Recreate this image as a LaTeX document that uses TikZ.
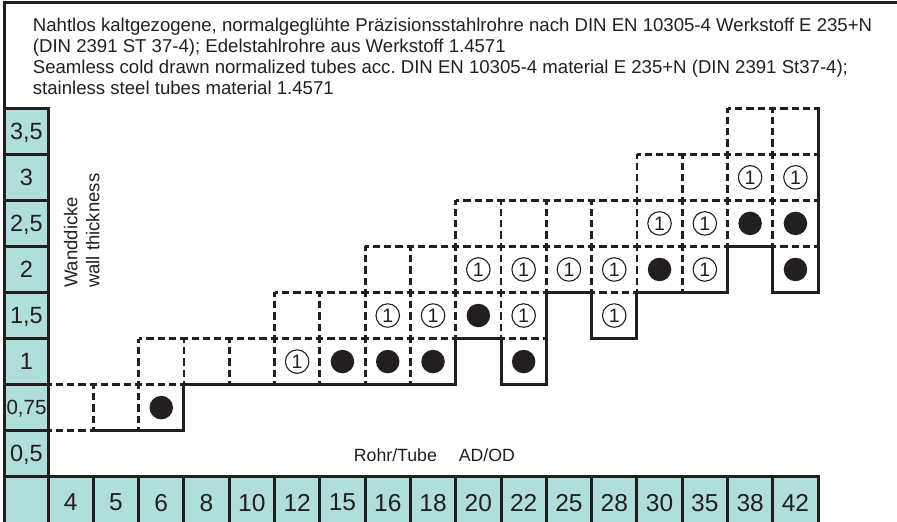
\documentclass[tikz,border=0pt]{standalone}
\usepackage{fontspec}
\setmainfont{Liberation Sans}
\definecolor{ink}{RGB}{35,31,32}
\definecolor{axisteal}{RGB}{176,222,218}
\tikzset{
  cut/.style={draw=ink, line width=2.8pt, dash pattern=on 7.3pt off 4pt, dash phase=3.65pt},
  edge/.style={draw=ink, line width=3pt, line join=miter, line cap=rect},
  frame/.style={draw=ink, line width=3pt, line cap=rect},
  axiscell/.style={fill=axisteal, draw=ink, line width=3pt},
  axislabel/.style={font=\fontsize{23.5}{26}\selectfont, text=ink, text depth=0pt, inner sep=0pt},
  one/.style={circle, draw=ink, line width=1.1pt, minimum size=23.5pt, inner sep=0pt,
    text depth=0pt, font=\fontsize{19.5}{21}\selectfont, text=ink},
  dot/.style={circle, fill=ink, minimum size=23.5pt, inner sep=0pt},
  note/.style={text=ink, inner sep=0pt}
}
\begin{document}
\begin{tikzpicture}[x = 45.3pt, y = 46.05pt]
    \useasboundingbox (-48pt,-45.3pt) rectangle ++(897pt,522pt);
    % frame and title
    \draw[frame] (-.96,8) -- (-.96,10.287) -- (19,10.287);
    \node[note, anchor=base west, align=left, font=\fontsize{18.6}{21}\selectfont\frenchspacing] (title) at (-.338,8.289)
      {Nahtlos kaltgezogene, normalgeglühte Präzisionsstahlrohre nach DIN EN 10305-4 Werkstoff E 235+N\\
       (DIN 2391 ST 37-4); Edelstahlrohre aus Werkstoff 1.4571\\
       Seamless cold drawn normalized tubes acc. DIN EN 10305-4 material E 235+N (DIN 2391 St37-4);\\
       stainless steel tubes material 1.4571};
    % wall thickness axis
    \foreach \t [count=\r from 0] in {{0,5},{\fontsize{20.5}{22}\selectfont 0,75},1,{1,5},2,{2,5},3,{3,5}} {
      \draw[axiscell] (-.96,\r) rectangle (0,\r+1);
      \node[axislabel] (wt\r) at (-.475,\r+.5) {\t};
    }
    % tube OD axis
    \draw[axiscell] (-.96,-1.2) rectangle (0,0);
    \foreach \d [count=\i from 0] in {4,5,6,8,10,12,15,16,18,20,22,25,28,30,35,38,42} {
      \draw[axiscell] (\i,-1.2) rectangle (\i+1,0);
      \node[axislabel, font=\fontsize{24.5}{26}\selectfont] (od\i) at (\i+.5,-.56) {\d};
    }
    \node[note, rotate=90, anchor=base west, font=\fontsize{18.5}{21}\selectfont] (wdde) at (.647,4.098) {Wanddicke};
    \node[note, rotate=90, anchor=base west, font=\fontsize{18.5}{21}\selectfont] (wden) at (1.132,4.098) {wall thickness};
    \node[note, anchor=base, font=\fontsize{17.7}{20}\selectfont] (odlabel) at (8.53,.326) {Rohr/Tube\hspace{22pt}AD/OD};
    % available sizes
    \foreach \r/\a/\b in {1/0/2, 2/2/8, 2/10/10, 3/5/10, 3/12/12, 4/7/14, 4/16/16, 5/9/16, 6/13/16, 7/15/16}
      \foreach \c in {\a,...,\b}
        \draw[cut] (\c,\r) -- ++(1,0) (\c,\r+1) -- ++(1,0) (\c,\r) -- ++(0,1) (\c+1,\r) -- ++(0,1);
    \draw[edge] (1,1) -- (3,1) -- (3,2) -- (9,2) -- (9,3) -- (10,3) -- (10,2) -- (11,2) -- (11,4)
      -- (12,4) -- (12,3) -- (13,3) -- (13,4) -- (15,4) -- (15,5) -- (16,5) -- (16,4) -- (17,4) -- (17,8);
    \foreach \c/\r in {5/2, 7/3, 8/3, 10/3, 12/3, 9/4, 10/4, 11/4, 12/4, 14/4, 13/5, 14/5, 15/6, 16/6}
      \node[one] (one\c-\r) at (\c+.5,\r+.5) {1};
    \foreach \c/\r in {2/1, 6/2, 7/2, 8/2, 10/2, 9/3, 13/4, 16/4, 15/5, 16/5}
      \node[dot] (dot\c-\r) at (\c+.5,\r+.5) {};
\end{tikzpicture}
\end{document}
